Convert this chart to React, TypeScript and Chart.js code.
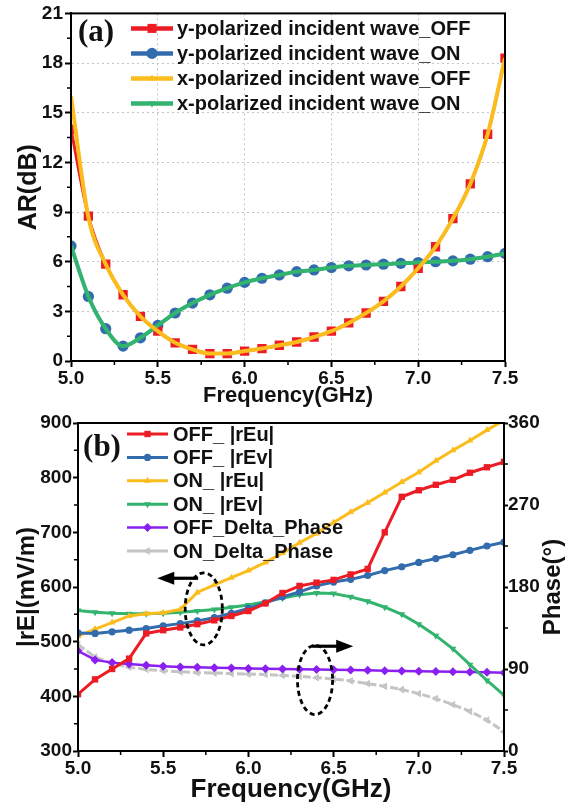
import React, { useEffect, useRef } from 'react';
import { Chart, registerables } from 'chart.js';

Chart.register(...registerables);

const FONT = '"Liberation Sans", Arial, Helvetica, sans-serif';
const SERIF = '"Liberation Serif", "Times New Roman", serif';

// ---------------- data ----------------
const freqs = [5.0, 5.1, 5.2, 5.3, 5.4, 5.5, 5.6, 5.7, 5.8, 5.9, 6.0, 6.1, 6.2, 6.3, 6.4, 6.5, 6.6, 6.7, 6.8, 6.9, 7.0, 7.1, 7.2, 7.3, 7.4, 7.5];

// panel (a): axial ratio (dB)
const arYOff = [14.0, 8.75, 5.85, 4.0, 2.7, 1.8, 1.1, 0.7, 0.45, 0.45, 0.6, 0.75, 0.95, 1.15, 1.45, 1.8, 2.3, 2.9, 3.6, 4.5, 5.6, 6.9, 8.6, 10.7, 13.7, 18.3];
const arYOn = [6.95, 3.9, 1.95, 0.9, 1.4, 2.15, 2.9, 3.5, 4.0, 4.4, 4.75, 5.0, 5.2, 5.4, 5.5, 5.65, 5.75, 5.8, 5.85, 5.9, 5.95, 6.0, 6.05, 6.15, 6.3, 6.5];
const arXOff = [16.0, 8.7, 5.85, 4.0, 2.7, 1.8, 1.1, 0.7, 0.45, 0.45, 0.6, 0.75, 0.95, 1.15, 1.45, 1.8, 2.3, 2.9, 3.6, 4.5, 5.6, 6.9, 8.6, 10.7, 13.7, 18.3];
const arXOn = [6.95, 3.9, 1.95, 0.9, 1.4, 2.15, 2.9, 3.5, 4.0, 4.4, 4.75, 5.0, 5.2, 5.4, 5.5, 5.65, 5.75, 5.8, 5.85, 5.9, 5.95, 6.0, 6.05, 6.15, 6.3, 6.5];

// panel (b): |rE| (mV/m) and phase (deg)
const offREu = [404, 431, 450, 469, 515, 521, 526, 532, 539, 547, 556, 570, 589, 602, 608, 613, 623, 633, 700, 765, 777, 787, 796, 809, 819, 829];
const offREv = [516, 515, 518, 521, 524, 529, 533, 538, 544, 552, 561, 571, 582, 591, 602, 609, 614, 621, 630, 637, 645, 652, 659, 667, 675, 682];
const onREu = [510, 523, 535, 547, 551, 553, 559, 590, 604, 617, 630, 645, 662, 681, 698, 718, 737, 754, 773, 792, 810, 831, 850, 868, 887, 905];
const onREv = [557, 554, 552, 551, 551, 552, 554, 556, 559, 563, 567, 573, 580, 586, 589, 588, 582, 574, 563, 550, 532, 511, 487, 458, 429, 402];
const offDeltaPhase = [110, 100, 97, 95.5, 94, 93, 92.3, 91.8, 91.3, 91, 90.6, 90.3, 90, 89.7, 89.4, 89.1, 88.8, 88.5, 88.2, 87.9, 87.6, 87.3, 87, 86.7, 86.4, 86];
const onDeltaPhase = [117, 103, 96, 92, 89.5, 88, 87, 86, 85.5, 85, 84.5, 84, 83, 82, 80.5, 79, 77, 74, 71, 67.5, 63, 57.5, 51, 43.5, 34, 21];

// axis ticks
const xMajor = [5.0, 5.5, 6.0, 6.5, 7.0, 7.5];
const xMinor = [5.25, 5.75, 6.25, 6.75, 7.25];
const arMinor = [1.5, 4.5, 7.5, 10.5, 13.5, 16.5, 19.5];
const reMinor = [350, 450, 550, 650, 750, 850];
const phaseMinor = [45, 135, 225, 315];

// annotations (b) in data units
const ellipseLeft = { x: 5.738, y: 560, rx: 0.109, ry: 66, axis: 'y' };
const arrowLeft = { x1: 5.705, x2: 5.465, y: 616, axis: 'y' };
const ellipseRight = { x: 6.391, y: 78, rx: 0.103, ry: 38, axis: 'y1' };
const arrowRight = { x1: 6.375, x2: 6.615, y: 115, axis: 'y1' };

// ---------------- colours ----------------
const RED = '#ec1c24';
const BLUE = '#336cac';
const YELLOW = '#fbbd1e';
const GREEN = '#33b46e';
const PURPLE = '#8a1ff0';
const GRAY = '#c4c4c4';

const xy = (ys: number[]) => freqs.map((x, i) => ({ x, y: ys[i] }));

function drawMarker(ctx: CanvasRenderingContext2D, style: string, x: number, y: number, r: number, rot: number, color: string) {
  ctx.save();
  ctx.translate(x, y);
  ctx.rotate((rot * Math.PI) / 180);
  ctx.fillStyle = color;
  ctx.beginPath();
  if (style === 'rect') {
    const s = r * Math.SQRT1_2;
    ctx.rect(-s, -s, 2 * s, 2 * s);
  } else if (style === 'circle') {
    ctx.arc(0, 0, r, 0, Math.PI * 2);
  } else if (style === 'triangle') {
    ctx.moveTo(0, -r);
    ctx.lineTo(r * 0.866, r * 0.5);
    ctx.lineTo(-r * 0.866, r * 0.5);
    ctx.closePath();
  } else if (style === 'rectRot') {
    ctx.moveTo(0, -r);
    ctx.lineTo(r, 0);
    ctx.lineTo(0, r);
    ctx.lineTo(-r, 0);
    ctx.closePath();
  }
  ctx.fill();
  ctx.restore();
}

type LegendSpec = { x: number; y: number; dy: number; len: number; font: string; gap: number };

function drawLegend(chart: any, spec: LegendSpec) {
  const ctx: CanvasRenderingContext2D = chart.ctx;
  const { left, top } = chart.chartArea;
  ctx.save();
  ctx.font = spec.font;
  ctx.textBaseline = 'middle';
  ctx.textAlign = 'left';
  chart.data.datasets.forEach((ds: any, i: number) => {
    const y = top + spec.y + i * spec.dy;
    const x = left + spec.x;
    ctx.strokeStyle = ds.borderColor;
    ctx.lineWidth = ds.legendLineWidth || ds.borderWidth;
    ctx.setLineDash([]);
    ctx.beginPath();
    ctx.moveTo(x, y);
    ctx.lineTo(x + spec.len, y);
    ctx.stroke();
    drawMarker(ctx, ds.pointStyle, x + spec.len / 2, y, ds.legendRadius, ds.pointRotation || 0, ds.borderColor);
    ctx.fillStyle = '#111';
    ctx.fillText(ds.label, x + spec.len + spec.gap, y + 1);
  });
  ctx.restore();
}

function drawFrame(chart: any) {
  const ctx: CanvasRenderingContext2D = chart.ctx;
  const { left, top, right, bottom } = chart.chartArea;
  ctx.save();
  ctx.strokeStyle = '#000';
  ctx.lineWidth = 2;
  ctx.setLineDash([]);
  ctx.strokeRect(left, top, right - left, bottom - top);
  ctx.restore();
}

function drawMinor(chart: any, scaleId: string, values: number[], len: number) {
  const ctx: CanvasRenderingContext2D = chart.ctx;
  const sc = chart.scales[scaleId];
  const { left, right, bottom } = chart.chartArea;
  ctx.save();
  ctx.strokeStyle = '#000';
  ctx.lineWidth = 1.5;
  ctx.beginPath();
  values.forEach((v) => {
    const p = sc.getPixelForValue(v);
    if (sc.position === 'bottom') {
      ctx.moveTo(p, bottom);
      ctx.lineTo(p, bottom + len);
    } else if (sc.position === 'left') {
      ctx.moveTo(left, p);
      ctx.lineTo(left - len, p);
    } else {
      ctx.moveTo(right, p);
      ctx.lineTo(right + len, p);
    }
  });
  ctx.stroke();
  ctx.restore();
}

function drawPanelLabel(chart: any, text: string, dx: number, dy: number) {
  const ctx: CanvasRenderingContext2D = chart.ctx;
  const { left, top } = chart.chartArea;
  ctx.save();
  ctx.font = `bold 31px ${SERIF}`;
  ctx.fillStyle = '#111';
  ctx.textAlign = 'center';
  ctx.textBaseline = 'middle';
  ctx.fillText(text, left + dx, top + dy);
  ctx.restore();
}

function tickFont(size: number) {
  return { family: FONT, size, weight: 'bold' as const };
}

function ChartA() {
  const ref = useRef<HTMLCanvasElement | null>(null);
  useEffect(() => {
    if (!ref.current) return;
    const decor = {
      id: 'decorA',
      afterDatasetsDraw(chart: any) {
        drawLegend(chart, { x: 60, y: 15, dy: 25, len: 42, font: `bold 20px ${FONT}`, gap: 4 });
        drawPanelLabel(chart, '(a)', 25, 20);
      },
      afterDraw(chart: any) {
        drawFrame(chart);
        drawMinor(chart, 'x', xMinor, 4);
        drawMinor(chart, 'y', arMinor, 4);
      },
    };
    const chart = new Chart(ref.current, {
      type: 'line',
      data: {
        datasets: [
          { label: 'y-polarized incident wave_OFF', data: xy(arYOff), borderColor: RED, backgroundColor: RED, borderWidth: 3, pointStyle: 'rect', pointRadius: 6.6, pointBorderWidth: 0, pointBackgroundColor: RED, cubicInterpolationMode: 'monotone', order: 2, legendRadius: 6.4, legendLineWidth: 4.5 } as any,
          { label: 'y-polarized incident wave_ON', data: xy(arYOn), borderColor: BLUE, backgroundColor: BLUE, borderWidth: 3, pointStyle: 'circle', pointRadius: 5.6, pointBorderWidth: 0, pointBackgroundColor: BLUE, cubicInterpolationMode: 'monotone', order: 2, legendRadius: 5.6, legendLineWidth: 4.5 } as any,
          { label: 'x-polarized incident wave_OFF', data: xy(arXOff), borderColor: YELLOW, backgroundColor: YELLOW, borderWidth: 4, pointStyle: 'triangle', pointRadius: 0, cubicInterpolationMode: 'monotone', order: 1, legendRadius: 4, legendLineWidth: 4.5 } as any,
          { label: 'x-polarized incident wave_ON', data: xy(arXOn), borderColor: GREEN, backgroundColor: GREEN, borderWidth: 4, pointStyle: 'triangle', pointRotation: 180, pointRadius: 0, cubicInterpolationMode: 'monotone', order: 1, legendRadius: 4, legendLineWidth: 4.5 } as any,
        ],
      },
      options: {
        animation: false,
        responsive: false,
        maintainAspectRatio: false,
        layout: { padding: { left: 0, right: 74, top: 12, bottom: 0 } },
        plugins: { legend: { display: false }, tooltip: { enabled: false } },
        scales: {
          x: {
            type: 'linear',
            min: 5,
            max: 7.5,
            afterBuildTicks: (s: any) => { s.ticks = xMajor.map((v) => ({ value: v })); },
            afterFit: (s: any) => { s.height = 47; },
            ticks: { font: tickFont(19), color: '#111', padding: 0, maxRotation: 0, autoSkip: false, callback: (v: any) => Number(v).toFixed(1) },
            grid: { color: '#c4c4c4', lineWidth: 1, tickColor: '#000', tickLength: 6, tickWidth: 2 },
            border: { display: true, color: '#000', width: 2, dash: [2, 3] },
            title: { display: true, text: 'Frequency(GHz)', color: '#111', font: { family: FONT, size: 22, weight: 'bold' }, padding: { top: 0, bottom: -1 } },
          },
          y: {
            type: 'linear',
            min: 0,
            max: 21,
            afterFit: (s: any) => { s.width = 71; },
            ticks: { stepSize: 3, font: tickFont(19), color: '#111', padding: 2 },
            grid: { color: '#c4c4c4', lineWidth: 1, tickColor: '#000', tickLength: 6, tickWidth: 2 },
            border: { display: true, color: '#000', width: 2, dash: [2, 3] },
            title: { display: true, text: 'AR(dB)', color: '#111', font: { family: FONT, size: 25, weight: 'bold' }, padding: { top: 14, bottom: 0 } },
          },
        },
      } as any,
      plugins: [decor],
    });
    return () => chart.destroy();
  }, []);
  return <canvas ref={ref} width={579} height={408} style={{ position: 'absolute', left: 0, top: 0, width: 579, height: 408 }} />;
}

function ChartB() {
  const ref = useRef<HTMLCanvasElement | null>(null);
  useEffect(() => {
    if (!ref.current) return;
    const drawAnno = (chart: any) => {
      const ctx: CanvasRenderingContext2D = chart.ctx;
      const xs = chart.scales.x;
      ctx.save();
      ctx.strokeStyle = '#000';
      ctx.fillStyle = '#000';
      [ellipseLeft, ellipseRight].forEach((e) => {
        const ys = chart.scales[e.axis];
        const cx = xs.getPixelForValue(e.x);
        const cy = ys.getPixelForValue(e.y);
        const rx = Math.abs(xs.getPixelForValue(e.x + e.rx) - cx);
        const ry = Math.abs(ys.getPixelForValue(e.y + e.ry) - cy);
        ctx.lineWidth = 2.8;
        ctx.setLineDash([5, 3.5]);
        ctx.beginPath();
        ctx.ellipse(cx, cy, rx, ry, 0, 0, Math.PI * 2);
        ctx.stroke();
      });
      ctx.setLineDash([]);
      [arrowLeft, arrowRight].forEach((a) => {
        const ys = chart.scales[a.axis];
        const x1 = xs.getPixelForValue(a.x1);
        const x2 = xs.getPixelForValue(a.x2);
        const y = ys.getPixelForValue(a.y);
        const dir = Math.sign(x2 - x1);
        const head = 17;
        ctx.lineWidth = 3.2;
        ctx.beginPath();
        ctx.moveTo(x1, y);
        ctx.lineTo(x2 - dir * head * 0.8, y);
        ctx.stroke();
        ctx.beginPath();
        ctx.moveTo(x2, y);
        ctx.lineTo(x2 - dir * head, y - 6.5);
        ctx.lineTo(x2 - dir * head, y + 6.5);
        ctx.closePath();
        ctx.fill();
      });
      ctx.restore();
    };
    const decor = {
      id: 'decorB',
      afterDatasetsDraw(chart: any) {
        drawAnno(chart);
        drawLegend(chart, { x: 49, y: 11, dy: 23.4, len: 41, font: `bold 20px ${FONT}`, gap: 5 });
        drawPanelLabel(chart, '(b)', 24, 25);
      },
      afterDraw(chart: any) {
        drawFrame(chart);
        drawMinor(chart, 'x', xMinor, 4);
        drawMinor(chart, 'y', reMinor, 4);
        drawMinor(chart, 'y1', phaseMinor, 4);
        const ctx: CanvasRenderingContext2D = chart.ctx;
        const { right, top, bottom } = chart.chartArea;
        ctx.save();
        ctx.translate(right + 49, (top + bottom) / 2);
        ctx.rotate(-Math.PI / 2);
        ctx.font = `bold 24px ${FONT}`;
        ctx.fillStyle = '#111';
        ctx.textAlign = 'center';
        ctx.textBaseline = 'middle';
        ctx.fillText('Phase(°)', 0, 0);
        ctx.restore();
      },
    };
    const line = (label: string, data: number[], color: string, style: string, radius: number, extra: any = {}) => ({
      label,
      data: xy(data),
      borderColor: color,
      backgroundColor: color,
      pointBackgroundColor: color,
      pointBorderColor: color,
      pointBorderWidth: 0,
      borderWidth: 3,
      pointStyle: style,
      pointRadius: radius,
      legendRadius: radius,
      tension: 0,
      yAxisID: 'y',
      ...extra,
    });
    const chart = new Chart(ref.current, {
      type: 'line',
      data: {
        datasets: [
          line('OFF_ |rEu|', offREu, RED, 'rect', 4.5),
          line('OFF_ |rEv|', offREv, BLUE, 'circle', 3.6),
          line('ON_ |rEu|', onREu, YELLOW, 'triangle', 4),
          line('ON_ |rEv|', onREv, GREEN, 'triangle', 4, { pointRotation: 180 }),
          line('OFF_Delta_Phase', offDeltaPhase, PURPLE, 'rectRot', 4.5, { yAxisID: 'y1', borderWidth: 2.5 }),
          line('ON_Delta_Phase', onDeltaPhase, GRAY, 'triangle', 4.5, { yAxisID: 'y1', pointRotation: -90, borderDash: [8, 3] }),
        ] as any,
      },
      options: {
        animation: false,
        responsive: false,
        maintainAspectRatio: false,
        layout: { padding: { left: 0, right: 0, top: 15, bottom: 0 } },
        plugins: { legend: { display: false }, tooltip: { enabled: false } },
        scales: {
          x: {
            type: 'linear',
            min: 5,
            max: 7.5,
            afterBuildTicks: (s: any) => { s.ticks = xMajor.map((v) => ({ value: v })); },
            afterFit: (s: any) => { s.height = 53; },
            ticks: { font: tickFont(19), color: '#111', padding: 0, maxRotation: 0, autoSkip: false, callback: (v: any) => Number(v).toFixed(1) },
            grid: { drawOnChartArea: false, color: '#000', tickColor: '#000', tickLength: 6, tickWidth: 2 },
            border: { display: true, color: '#000', width: 2 },
            title: { display: true, text: 'Frequency(GHz)', color: '#111', font: { family: FONT, size: 26, weight: 'bold' }, padding: { top: 0, bottom: -1 } },
          },
          y: {
            type: 'linear',
            position: 'left',
            min: 300,
            max: 900,
            afterFit: (s: any) => { s.width = 78; },
            ticks: { stepSize: 100, font: tickFont(19), color: '#111', padding: 1 },
            grid: { drawOnChartArea: false, color: '#000', tickColor: '#000', tickLength: 5, tickWidth: 2 },
            border: { display: true, color: '#000', width: 2 },
            title: { display: true, text: '|rE|(mV/m)', color: '#111', font: { family: FONT, size: 24, weight: 'bold' }, padding: { top: 13, bottom: 0 } },
          },
          y1: {
            type: 'linear',
            position: 'right',
            min: 0,
            max: 360,
            afterFit: (s: any) => { s.width = 75; },
            ticks: { stepSize: 90, font: tickFont(19), color: '#111', padding: 0 },
            grid: { drawOnChartArea: false, color: '#000', tickColor: '#000', tickLength: 4, tickWidth: 2 },
            border: { display: true, color: '#000', width: 2 },
            title: { display: false, text: 'Phase(°)' },
          },
        },
      } as any,
      plugins: [decor],
    });
    return () => chart.destroy();
  }, []);
  return <canvas ref={ref} width={579} height={396} style={{ position: 'absolute', left: 0, top: 408, width: 579, height: 396 }} />;
}

export default function App() {
  return (
    <div style={{ position: 'absolute', left: 0, top: 0, width: 579, height: 804, background: '#fff', overflow: 'hidden' }}>
      <ChartA />
      <ChartB />
    </div>
  );
}
